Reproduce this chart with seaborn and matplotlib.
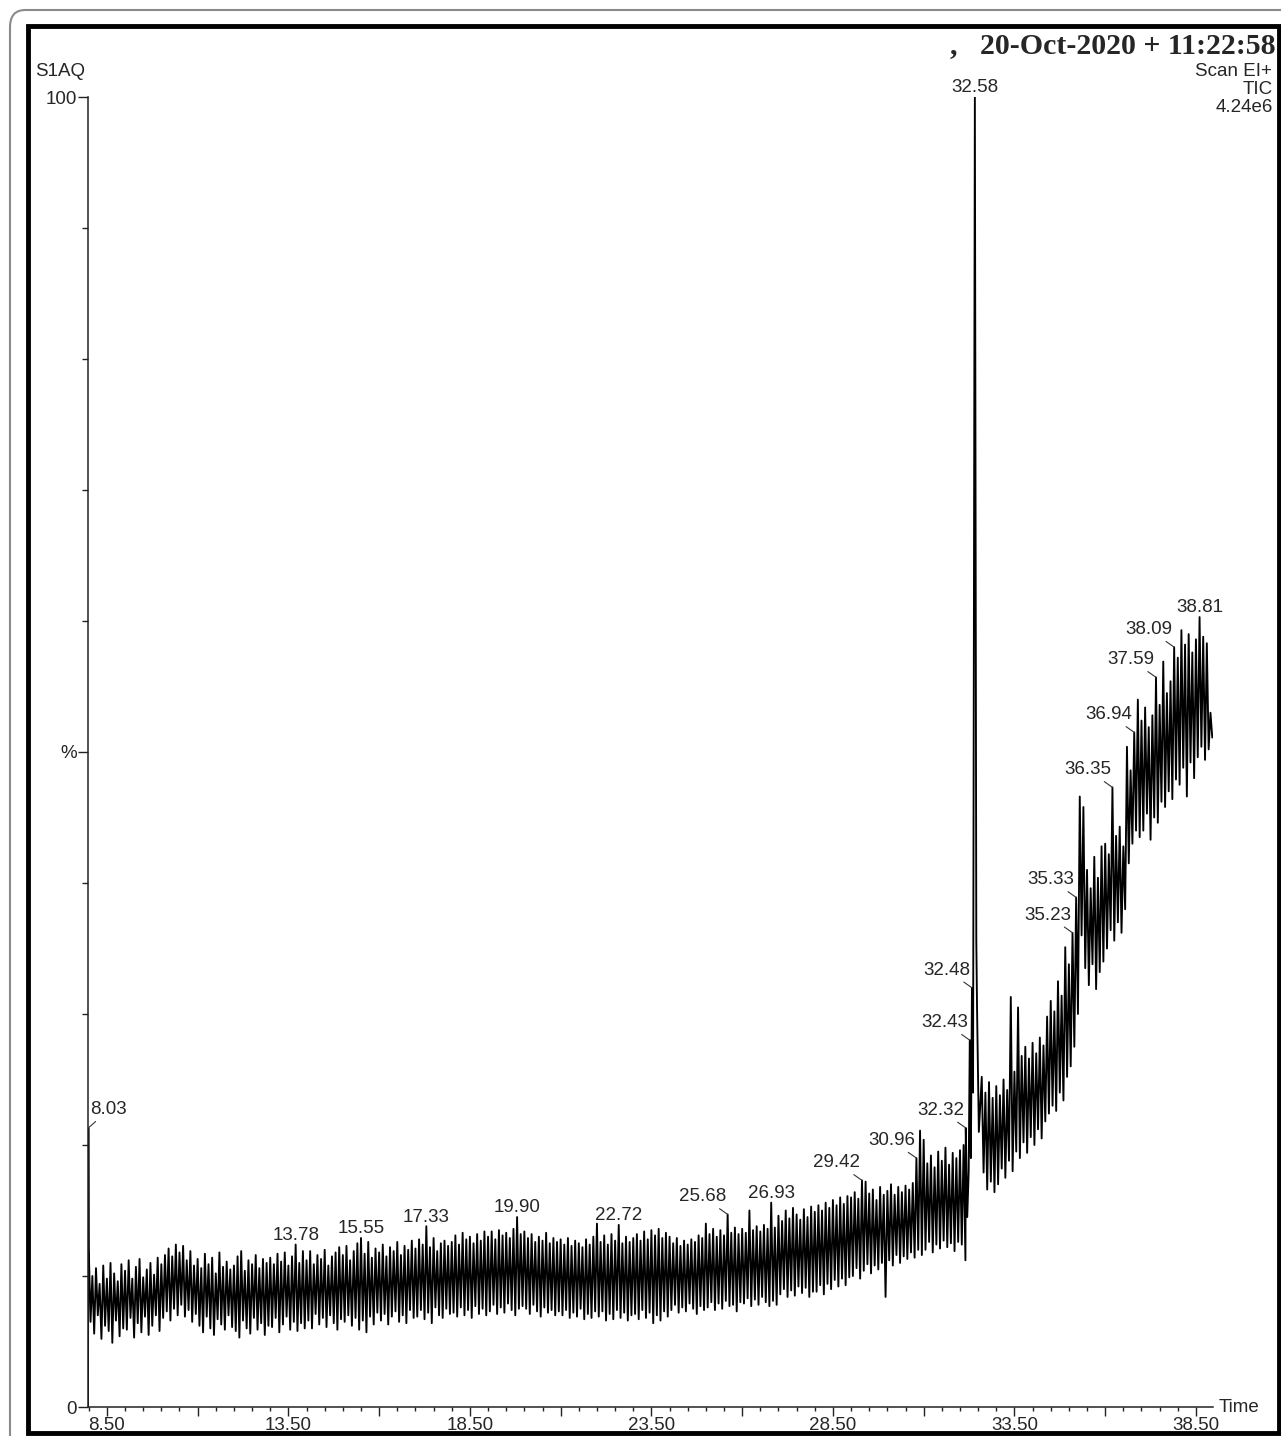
import numpy as np
import pandas as pd
import matplotlib.pyplot as plt
import seaborn as sns
from matplotlib.patches import FancyBboxPatch, Rectangle
from matplotlib.ticker import FixedLocator, FixedFormatter, MultipleLocator

t_first = 8.0
hi_a = [
    12.2, 10.0, 10.6, 9.4, 10.8, 9.8, 11.0, 10.2, 9.6, 10.9,
    10.4, 11.2, 9.8, 10.7, 11.3, 9.9, 10.5, 11.0, 10.1, 11.4,
    10.9, 11.6, 12.1, 11.5, 12.4, 11.8, 12.3, 11.2, 11.9, 10.8,
    11.3, 10.6, 11.7, 10.9, 11.4, 10.2, 11.8, 10.7, 11.1, 10.5,
    10.8, 11.5, 11.9, 10.4, 11.2, 10.9, 11.6, 10.6, 11.3, 11.0,
    11.4, 10.9, 11.7, 11.1, 11.8, 10.8, 11.5, 12.4, 11.0, 11.9,
    11.2, 11.9, 10.9, 11.6, 11.3, 12.0, 10.8, 11.5, 11.8, 12.2,
    11.6, 12.3, 11.2, 11.9, 12.5, 12.9, 11.7, 12.6, 11.4, 12.1,
    11.8, 12.4, 11.5, 12.2, 11.9, 12.6, 11.6, 12.3, 12.0, 12.7,
    12.1, 12.8, 12.4, 13.8, 12.2, 12.9, 11.9, 12.5, 12.7, 12.3,
    12.6, 13.1, 12.4, 13.3, 12.8, 13.0, 12.5, 13.2, 12.7, 13.4,
    13.0, 13.4, 12.8, 13.5, 13.1, 13.3, 12.9, 13.6, 14.5, 13.2,
    13.4, 12.9, 13.2, 12.6, 13.0, 12.7, 13.3, 12.5, 12.9, 12.6,
    12.8, 12.4, 12.9, 12.3, 12.7, 12.5, 12.2, 12.8, 12.4, 13.0,
    14.0, 12.6, 13.1, 12.4, 13.2, 12.7, 13.9, 12.5, 13.0, 12.6,
    12.9, 13.2, 12.7, 13.4, 12.8, 13.5, 13.1, 13.6, 12.9, 13.3,
    13.0, 12.5, 12.9, 12.3, 12.7, 12.4, 12.8, 12.6, 13.1, 12.9,
    14.0, 13.2, 13.6, 13.0, 13.5, 13.1, 14.7, 13.3, 13.7, 13.2,
    13.6, 13.3, 15.0, 13.5, 13.8, 13.4, 13.9, 13.6, 15.6, 13.7,
    14.6, 14.2, 15.0, 14.4, 15.2, 14.7, 14.3, 15.1, 14.5, 15.3,
    14.9, 15.4, 15.0, 15.6, 15.2, 15.8, 15.4, 16.0, 15.5, 16.1,
    16.0, 16.4, 15.9, 17.3, 17.2, 16.3, 16.6, 15.8, 16.8, 16.2,
    16.5, 17.0, 16.2, 16.8, 16.4, 16.9, 16.6, 17.1, 19.0, 21.1,
    20.4, 18.6, 19.2, 18.3, 19.5, 18.8, 19.8, 18.5, 19.4, 19.0,
    19.6, 20.0,
]
lo_a = [
    6.5, 5.6, 7.0, 5.2, 6.2, 5.8, 4.9, 6.6, 5.4, 6.0,
    5.9, 6.8, 5.3, 6.4, 5.7, 6.9, 5.5, 6.2, 7.0, 5.8,
    6.8, 7.3, 6.6, 7.5, 7.0, 7.8, 6.9, 7.4, 6.5, 7.1,
    6.2, 5.7, 6.9, 6.0, 5.5, 6.7, 6.3, 5.9, 7.0, 6.1,
    5.8, 5.3, 6.6, 6.0, 5.6, 6.8, 5.9, 6.4, 5.5, 6.2,
    6.1, 6.8, 5.7, 6.3, 6.9, 5.9, 6.5, 5.8, 6.4, 6.0,
    6.6, 6.0, 7.1, 6.3, 6.8, 6.1, 7.0, 6.4, 5.9, 6.7,
    6.5, 7.0, 6.2, 6.8, 5.9, 6.6, 5.7, 6.9, 6.3, 7.2,
    6.6, 7.1, 6.3, 6.9, 7.3, 6.5, 7.0, 6.4, 7.4, 6.8,
    6.9, 7.4, 6.7, 7.2, 6.4, 7.6, 7.0, 6.8, 7.5, 7.1,
    7.2, 6.9, 7.6, 7.0, 7.4, 6.8, 7.7, 7.1, 7.5, 7.0,
    7.3, 7.8, 7.1, 7.6, 7.2, 7.9, 7.4, 7.0, 7.5, 7.7,
    7.5, 7.1, 7.8, 7.3, 6.9, 7.6, 7.2, 7.4, 7.0, 7.3,
    7.0, 7.4, 6.8, 7.2, 6.9, 7.5, 6.7, 7.1, 6.8, 7.3,
    6.9, 7.3, 6.6, 7.1, 6.7, 7.4, 6.8, 7.2, 6.6, 7.0,
    7.1, 6.7, 7.4, 6.8, 7.2, 6.4, 7.0, 6.6, 7.3, 6.9,
    7.4, 7.8, 7.2, 7.6, 7.3, 7.9, 7.5, 7.1, 7.7, 7.4,
    7.6, 8.0, 7.4, 7.9, 7.5, 8.1, 7.7, 7.8, 7.3, 8.0,
    7.9, 8.3, 7.7, 8.2, 7.8, 8.4, 8.0, 7.7, 8.1, 7.8,
    8.6, 9.0, 8.4, 8.9, 8.5, 9.2, 8.7, 9.1, 8.4, 8.8,
    8.8, 9.3, 8.6, 9.4, 9.0, 9.7, 9.2, 9.8, 9.3, 9.9,
    10.0, 10.6, 9.8, 10.4, 10.9, 10.2, 10.8, 10.5, 11.0, 8.4,
    11.2, 10.8, 11.6, 11.0, 11.5, 11.3, 11.8, 11.4, 12.0, 11.6,
    12.0, 12.6, 11.8, 12.4, 12.1, 12.7, 12.2, 12.5, 11.9, 12.6,
    12.4, 11.2,
]

# main peak cluster and the start of the run, read point by point
extra_t = [7.98, 7.99, 32.16, 32.20, 32.24, 32.27, 32.30, 32.33, 32.36,
           32.41, 32.45, 32.47, 32.52]
extra_y = [0.0, 21.3, 21.3, 14.5, 18.0, 28.0, 19.0, 32.0, 24.0,
           100.0, 35.6, 30.5, 21.0]

t_second = 32.6
hi_b = [
    25.2, 24.0, 24.8, 23.6,
    24.5, 23.8, 25.0, 24.2, 31.3, 25.6, 30.5, 26.8, 27.5, 26.6,
    27.8, 27.0, 28.2, 27.6, 29.8, 31.0, 30.2, 32.5, 31.4, 35.1,
    33.8, 36.2, 38.9, 46.6, 45.8, 41.0, 39.6, 42.0, 40.4, 42.8,
    43.0, 42.2, 47.3, 43.6, 44.3, 42.8, 50.4, 48.6, 51.5, 54.0,
    52.4, 53.4, 51.9, 52.8, 55.7, 53.6, 56.9, 54.5, 55.4, 58.0,
    57.2, 59.3, 58.2, 59.0, 57.6, 58.6, 60.3, 58.8, 58.3, 53.0,
]
lo_b = [
    17.9, 16.6, 17.2, 16.4,
    17.0, 18.2, 17.5, 18.8, 18.0, 19.5, 19.0, 20.2, 19.4, 20.6,
    20.0, 21.2, 20.5, 21.8, 22.4, 23.0, 22.6, 24.0, 23.4, 25.2,
    26.0, 27.5, 30.0, 36.0, 33.5, 32.2, 33.8, 31.9, 33.2, 34.0,
    35.0, 36.4, 35.6, 37.0, 36.2, 38.0, 41.5, 43.0, 44.0, 43.5,
    44.0, 45.3, 43.3, 45.0, 44.6, 46.2, 45.8, 47.0, 46.4, 47.9,
    47.5, 48.8, 46.6, 49.2, 48.0, 49.6, 50.4, 49.4, 50.2, 51.1,
]

# labelled peaks (retention time as printed, position on the trace)
peak_text = ['8.03', '13.78', '15.55', '17.33', '19.90', '22.72', '25.68',
             '26.93', '29.42', '30.96', '32.32', '32.43', '32.48', '32.58',
             '35.23', '35.33', '36.35', '36.94', '37.59', '38.09', '38.81']
peak_pos = [7.99, 13.7, 15.5, 17.3, 19.8, 22.6, 25.6, 26.8, 29.3, 30.8,
            32.16, 32.27, 32.33, 32.41, 35.1, 35.2, 36.2, 36.8, 37.4, 37.9, 38.6]
peak_side = ['right', 'up', 'up', 'up', 'up', 'up', 'left', 'up', 'left', 'left',
             'left', 'left', 'left', 'up', 'left', 'left', 'left', 'left', 'left',
             'left', 'up']

x_labels = ['8.50', '13.50', '18.50', '23.50', '28.50', '33.50', '38.50']


def binned(t0, hi, lo):
    t = t0 + 0.1 * np.arange(len(hi))
    return (np.column_stack([t, t + 0.05]).ravel(),
            np.column_stack([hi, lo]).ravel())


ta, ya = binned(t_first, hi_a, lo_a)
tb, yb = binned(t_second, hi_b, lo_b)
df = pd.DataFrame({'time': np.concatenate([ta, extra_t, tb]),
                   'pct': np.concatenate([ya, extra_y, yb])})
df = df.sort_values('time').reset_index(drop=True)

sns.set_style('ticks')
plt.rcParams['font.family'] = ['Liberation Sans', 'DejaVu Sans']

W, H = 1281, 1436
fs = 13.5
fig = plt.figure(figsize=(W / 100, H / 100), dpi=100)
ax = fig.add_axes([88 / W, 1 - 1407 / H, (1213 - 88) / W, (1407 - 97) / H])

sns.lineplot(data=df, x='time', y='pct', ax=ax, estimator=None, sort=False,
             color='black', linewidth=1.35)

ax.set_xlim(7.98, 38.97)
ax.set_ylim(0, 100)
ax.set_xlabel('')
ax.set_ylabel('')
for s in ['top', 'right']:
    ax.spines[s].set_visible(False)
for s in ['left', 'bottom']:
    ax.spines[s].set_color('#222222')
    ax.spines[s].set_linewidth(1.1)

# x: labels every 5 min, long ticks every 2.5, short every 0.5
x_major = [8.5 + 2.5 * i for i in range(13)]
ax.xaxis.set_major_locator(FixedLocator(x_major))
ax.xaxis.set_major_formatter(FixedFormatter(
    [x_labels[i // 2] if i % 2 == 0 else '' for i in range(13)]))
ax.xaxis.set_minor_locator(MultipleLocator(0.5))
ax.yaxis.set_major_locator(FixedLocator([0, 50, 100]))
ax.yaxis.set_major_formatter(FixedFormatter(['0', '%', '100']))
ax.yaxis.set_minor_locator(MultipleLocator(10))
ax.tick_params(axis='x', which='major', length=6.5, width=1, color='#222222',
               labelsize=fs, pad=0.5)
ax.tick_params(axis='x', which='minor', length=3, width=1, color='#222222')
ax.tick_params(axis='y', which='major', length=7.5, width=1, color='#222222',
               labelsize=fs, pad=0.5)
ax.tick_params(axis='y', which='minor', length=4.5, width=1, color='#222222')

ax.annotate('Time', xy=(1, 0), xycoords='axes fraction', xytext=(4, 0),
            textcoords='offset points', ha='left', va='center', fontsize=fs)

line_kw = dict(arrowstyle='-', lw=0.8, color='#333333', shrinkA=0, shrinkB=0)
for lab, pt, side in zip(peak_text, peak_pos, peak_side):
    yv = df.loc[(df['time'] - pt).abs().idxmin(), 'pct']
    if side == 'up':
        ax.annotate(lab, (pt, yv), xytext=(0, 0.5), textcoords='offset points',
                    ha='center', va='bottom', fontsize=fs, annotation_clip=False)
    elif side == 'left':
        ax.annotate(lab, (pt, yv), xytext=(-18, 6.5), textcoords='offset points',
                    ha='center', va='bottom', fontsize=fs,
                    arrowprops=dict(relpos=(0.76, 0), **line_kw))
    else:
        ax.annotate(lab, (pt, yv), xytext=(1.5, 7), textcoords='offset points',
                    ha='left', va='bottom', fontsize=fs,
                    arrowprops=dict(relpos=(0.24, 0), **line_kw))

# header texts
fig.text(1276 / W, 1 - 46 / H, ',   20-Oct-2020 + 11:22:58', ha='right', va='center',
         family=['Liberation Serif', 'DejaVu Serif'], weight='bold', fontsize=21.5)
fig.text(1272 / W, 1 - 72 / H, 'Scan EI+', ha='right', va='center', fontsize=fs)
fig.text(1273 / W, 1 - 90 / H, 'TIC', ha='right', va='center', fontsize=fs)
fig.text(1273 / W, 1 - 108 / H, '4.24e6', ha='right', va='center', fontsize=fs)
fig.text(35 / W, 1 - 72 / H, 'S1AQ', ha='left', va='center', fontsize=fs)

# page frames
fig.patches.append(FancyBboxPatch((10 / W, -0.02), 1.1, 1 - 10 / H + 0.02,
                                  boxstyle='round,pad=0,rounding_size=0.012',
                                  transform=fig.transFigure, fill=False,
                                  edgecolor='#8a8a8a', lw=1.5, clip_on=False))
fig.patches.append(Rectangle((28 / W, 3 / H), (1279 - 28) / W, (1407 - 0) / H + 0.0,
                             transform=fig.transFigure, fill=False,
                             edgecolor='black', lw=3.5))

fig.savefig('out.png', dpi=100, facecolor='white')
